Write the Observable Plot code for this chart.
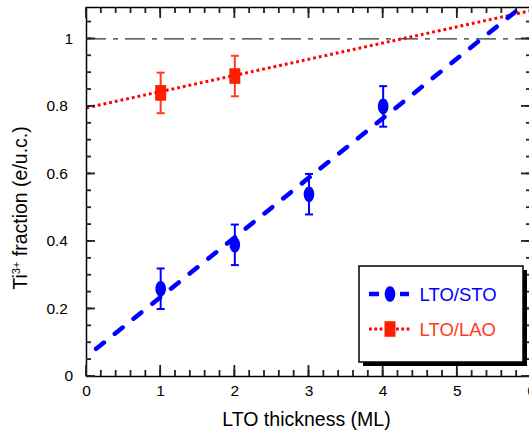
<!DOCTYPE html>
<html>
<head>
<meta charset="utf-8">
<script src="https://cdn.jsdelivr.net/npm/d3@7"></script>
<script src="https://cdn.jsdelivr.net/npm/@observablehq/plot@0.6"></script>
<style>
  html, body { margin: 0; padding: 0; background: #fff; overflow: hidden; }
  #chart { position: relative; width: 529px; height: 431px; overflow: hidden; }
  #chart svg { max-width: none !important; }
</style>
</head>
<body>
<div id="chart"></div>
<script>
// Measured Ti3+ fraction versus LTO thickness (monolayers)
const stoThickness = [1, 2, 3, 4];
const stoFraction = [0.26, 0.39, 0.54, 0.80];
const stoError = [0.06, 0.06, 0.06, 0.06];

const laoThickness = [1, 2];
const laoFraction = [0.84, 0.89];
const laoError = [0.06, 0.06];

// Linear fits, given by their end points
const stoFitX = [0.13, 6];
const stoFitY = [0.082, 1.119];
const laoFitX = [0, 6];
const laoFitY = [0.796, 1.084];

const referenceLevel = 1;
const seriesNames = ["LTO/STO", "LTO/LAO"];

const xDomain = [0, 6];
const yDomain = [0, 1.093];
const xTicks = [0, 1, 2, 3, 4, 5, 6];
const xTickLabels = ["0", "1", "2", "3", "4", "5", "6"];
const yTicks = [0, 0.2, 0.4, 0.6, 0.8, 1];
const yTickLabels = ["0", "0.2", "0.4", "0.6", "0.8", "1"];
const xLabel = "LTO thickness (ML)";
const yLabelParts = ["Ti", "3+", " fraction (e/u.c.)"];

const BLUE = "#0000ff";
const RED_LINE = "#ff0000";
const RED_MARK = "#ff1e00";
const RED_BAR = "#ff3c1e";
const RED_TEXT = "#ff3a1c";
const FONT = "'Liberation Sans', Arial, Helvetica, sans-serif";

const sto = stoThickness.map((x, i) => ({x, y: stoFraction[i], e: stoError[i]}));
const lao = laoThickness.map((x, i) => ({x, y: laoFraction[i], e: laoError[i]}));
const stoFit = stoFitX.map((x, i) => ({x, y: stoFitY[i]}));
const laoFit = laoFitX.map((x, i) => ({x, y: laoFitY[i]}));

const xMinor = d3.range(0, 6.001, 0.2);
const yMinor = d3.range(0, 1.09, 0.05);

// Layout
const W = 540, H = 431;
const M = {left: 86, right: 9, top: 7, bottom: 55};

// Marker shapes (fixed pixel sizes)
const K = 0.5523;
const ellipse = {
  draw(ctx) {
    const rx = 5.3, ry = 7.8;
    ctx.moveTo(rx, 0);
    ctx.bezierCurveTo(rx, ry * K, rx * K, ry, 0, ry);
    ctx.bezierCurveTo(-rx * K, ry, -rx, ry * K, -rx, 0);
    ctx.bezierCurveTo(-rx, -ry * K, -rx * K, -ry, 0, -ry);
    ctx.bezierCurveTo(rx * K, -ry, rx, -ry * K, rx, 0);
    ctx.closePath();
  }
};
const block = { draw(ctx) { ctx.rect(-5.5, -7.8, 11, 15.6); } };
const cap = { draw(ctx) { ctx.moveTo(-4, 0); ctx.lineTo(4, 0); } };

function errorBars(data, color) {
  return [
    Plot.ruleX(data, {x: "x", y1: d => d.y - d.e, y2: d => d.y + d.e, stroke: color, strokeWidth: 2}),
    Plot.dot(data, {x: "x", y: d => d.y + d.e, symbol: cap, stroke: color, strokeWidth: 2}),
    Plot.dot(data, {x: "x", y: d => d.y - d.e, symbol: cap, stroke: color, strokeWidth: 2})
  ];
}

const plot = Plot.plot({
  width: W,
  height: H,
  marginLeft: M.left,
  marginRight: M.right,
  marginTop: M.top,
  marginBottom: M.bottom,
  x: {domain: xDomain},
  y: {domain: yDomain},
  style: {fontFamily: FONT, background: "white", color: "black"},
  marks: [
    // reference level
    Plot.ruleY([referenceLevel], {stroke: "#333", strokeWidth: 1.2, strokeDasharray: "20,7,5,7"}),
    // fits
    Plot.line(laoFit, {x: "x", y: "y", stroke: RED_LINE, strokeWidth: 3, strokeDasharray: "2.8,3", strokeLinecap: "butt", clip: true}),
    Plot.line(stoFit, {x: "x", y: "y", stroke: BLUE, strokeWidth: 4.5, strokeDasharray: "10,14", strokeLinecap: "round", clip: true}),
    // data with error bars
    ...errorBars(lao, RED_BAR),
    Plot.dot(lao, {x: "x", y: "y", symbol: block, fill: RED_MARK, stroke: "none"}),
    ...errorBars(sto, BLUE),
    Plot.dot(sto, {x: "x", y: "y", symbol: ellipse, fill: BLUE, stroke: "none"}),
    // tick labels
    Plot.axisX(xTicks, {anchor: "bottom", tickSize: 0, tickPadding: 8, label: null, fontSize: 15.5,
      tickFormat: d => xTickLabels[xTicks.indexOf(d)]}),
    Plot.axisY(yTicks.filter(d => !Number.isInteger(d)), {anchor: "left", tickSize: 0, tickPadding: 18.5, label: null, fontSize: 15.5,
      tickFormat: d => yTickLabels[yTicks.indexOf(d)]}),
    Plot.axisY(yTicks.filter(d => Number.isInteger(d)), {anchor: "left", tickSize: 0, tickPadding: 13.5, label: null, fontSize: 15.5,
      tickFormat: d => yTickLabels[yTicks.indexOf(d)]}),
    Plot.frame({stroke: "black", strokeWidth: 1.5})
  ]
});
plot.style.maxWidth = "none";

const svg = d3.select(plot);
const xs = plot.scale("x"), ys = plot.scale("y");
const frameLeft = M.left, frameRight = W - M.right, frameTop = M.top, frameBottom = H - M.bottom;

// Inward ticks on all four sides, placed with the plot's own scales
const tg = svg.append("g").attr("fill", "none");
function stub(x1, y1, x2, y2) {
  tg.append("line").attr("x1", x1).attr("y1", y1).attr("x2", x2).attr("y2", y2)
    .attr("stroke", "#222").attr("stroke-width", 1.8);
}
for (const v of xMinor) {
  const px = xs.apply(v);
  stub(px, frameBottom, px, frameBottom - 6);
  stub(px, frameTop, px, frameTop + 6);
}
for (const v of xTicks) {
  const px = xs.apply(v);
  stub(px, frameBottom, px, frameBottom - 11);
  stub(px, frameTop, px, frameTop + 11);
}
for (const v of yMinor) {
  const py = ys.apply(v);
  stub(frameLeft, py, frameLeft + 5, py);
  stub(frameRight, py, frameRight - 5, py);
}
for (const v of yTicks) {
  const py = ys.apply(v);
  stub(frameLeft, py, frameLeft + 9, py);
  stub(frameRight, py, frameRight - 10, py);
}

// Axis titles
svg.append("text").attr("x", 306.5).attr("y", 426).attr("text-anchor", "middle")
  .attr("font-family", FONT).attr("font-size", 19.5).attr("fill", "black").text(xLabel);
const yt = svg.append("text").attr("transform", "translate(27,208) rotate(-90)").attr("text-anchor", "middle")
  .attr("font-family", FONT).attr("font-size", 19.5).attr("fill", "black");
yt.append("tspan").text(yLabelParts[0]);
yt.append("tspan").attr("font-size", 11).attr("dy", -7.5).text(yLabelParts[1]);
yt.append("tspan").attr("dy", 7.5).text(yLabelParts[2]);

// Legend box with drop shadow
const lg = svg.append("g").attr("transform", "translate(359,266)")
  .attr("font-family", FONT).attr("text-anchor", "start");
lg.append("rect").attr("x", 4).attr("y", 4).attr("width", 164).attr("height", 96).attr("fill", "black");
lg.append("rect").attr("width", 164).attr("height", 96).attr("fill", "white").attr("stroke", "black").attr("stroke-width", 1.5);

const entries = [
  {name: seriesNames[0], rowY: 28, text: BLUE, shape: ellipse, fill: BLUE,
    segs: [[10, 20], [41, 50]], line: {stroke: BLUE, width: 4.5, dash: null}},
  {name: seriesNames[1], rowY: 63, text: RED_TEXT, shape: block, fill: RED_MARK,
    segs: [[10, 26], [37, 52]], line: {stroke: RED_LINE, width: 3, dash: "2.8,2.5"}}
];
for (const e of entries) {
  for (const [a, b] of e.segs) {
    lg.append("line").attr("x1", a).attr("x2", b).attr("y1", e.rowY).attr("y2", e.rowY)
      .attr("stroke", e.line.stroke).attr("stroke-width", e.line.width)
      .attr("stroke-dasharray", e.line.dash);
  }
  lg.append("path").attr("d", d3.symbol().type(e.shape)()).attr("transform", `translate(31,${e.rowY})`).attr("fill", e.fill);
  lg.append("text").attr("x", 60.5).attr("y", e.rowY + 6.8).attr("font-size", 18.5).attr("fill", e.text).text(e.name);
}

document.getElementById("chart").appendChild(plot);
</script>
</body>
</html>
